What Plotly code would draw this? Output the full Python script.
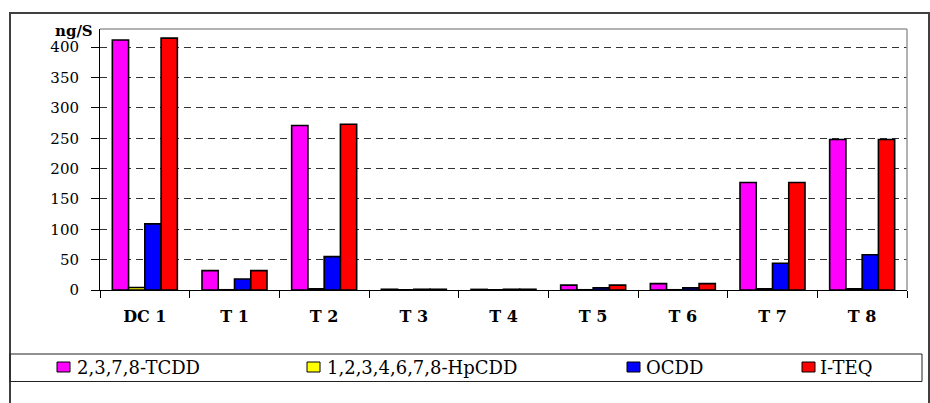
import plotly.graph_objects as go

categories = ["DC 1", "T 1", "T 2", "T 3", "T 4", "T 5", "T 6", "T 7", "T 8"]
series_names = ["2,3,7,8-TCDD", "1,2,3,4,6,7,8-HpCDD", "OCDD", "I-TEQ"]
tcdd = [412, 32, 271, 1.2, 1.0, 8, 10.5, 177, 248]
hpcdd = [4, 0.4, 2, 0.3, 0.3, 0.4, 0.4, 2, 2]
ocdd = [109, 18, 55, 1.2, 1.2, 3.5, 3.5, 44, 58]
iteq = [415, 32, 273, 1.2, 1.2, 8, 10.5, 177, 248]
colors = ["#FF00FF", "#FFFF00", "#0000FF", "#FF0000"]
y_ticks = [0, 50, 100, 150, 200, 250, 300, 350, 400]
y_title = "ng/S"

W, H = 930, 403
L, R, T, B = 100, 23, 29, 113
PW, PH = W - L - R, H - T - B

def px(x):
    return (x - L) / PW

def py(y):
    return (H - B - y) / PH

fig = go.Figure()
for name, vals, col in zip(series_names, [tcdd, hpcdd, ocdd, iteq], colors):
    fig.add_trace(go.Bar(
        x=categories, y=vals, name=name,
        marker=dict(color=col, line=dict(color="black", width=1.6)),
        showlegend=False,
    ))

serif = "DejaVu Serif"
shapes = [
    # outer frame
    dict(type="rect", xref="paper", yref="paper", x0=px(10), x1=px(929), y0=py(13), y1=py(430),
         line=dict(color="#404040", width=2), fillcolor="rgba(0,0,0,0)", layer="below"),
    # plot-area top and right border (gray)
    dict(type="line", xref="paper", yref="paper", x0=0, x1=1, y0=1, y1=1,
         line=dict(color="#999999", width=1.5)),
    dict(type="line", xref="paper", yref="paper", x0=1, x1=1, y0=0, y1=1,
         line=dict(color="#999999", width=1.5)),
    # legend box
    dict(type="rect", xref="paper", yref="paper", x0=px(10), x1=px(922), y0=py(354), y1=py(381.5),
         line=dict(color="#222222", width=1), fillcolor="rgba(0,0,0,0)"),
]
annotations = [
    dict(text="<b>" + y_title + "</b>", xref="paper", yref="paper", x=px(95), y=py(31),
         xanchor="right", yanchor="middle", showarrow=False,
         font=dict(family=serif, size=15, color="black")),
]
legend_sq = [57, 307, 627, 802]
legend_tx = [75, 325, 644, 818]
for name, col, sx, tx in zip(series_names, colors, legend_sq, legend_tx):
    shapes.append(dict(type="rect", xref="paper", yref="paper", x0=px(sx), x1=px(sx + 13),
                       y0=py(372), y1=py(362), fillcolor=col, line=dict(color="black", width=1)))
    annotations.append(dict(text=name, xref="paper", yref="paper", x=px(tx), y=py(367.5),
                            xanchor="left", yanchor="middle", showarrow=False,
                            font=dict(family=serif, size=18, color="black")))

fig.update_layout(
    width=W, height=H,
    margin=dict(l=L, r=R, t=T, b=B, pad=0),
    paper_bgcolor="white", plot_bgcolor="white",
    barmode="group", bargap=0.275, bargroupgap=0,
    font=dict(family=serif, color="black"),
    shapes=shapes, annotations=annotations,
    xaxis=dict(
        type="category", tickson="boundaries", ticks="outside", ticklen=7,
        tickcolor="black", tickwidth=1, showline=True, linecolor="black", linewidth=1,
        showgrid=False, ticklabelstandoff=12,
        tickfont=dict(family=serif, size=16, color="black", weight="bold"),
    ),
    yaxis=dict(
        range=[0, 430], tickvals=y_ticks, ticks="outside", ticklen=8,
        tickcolor="black", tickwidth=1, showline=True, linecolor="black", linewidth=1,
        showgrid=True, gridcolor="#333333", gridwidth=1, griddash="7px,5px",
        zeroline=False, ticklabelstandoff=9,
        tickfont=dict(family=serif, size=15, color="black"),
    ),
)

fig.write_html(
    "out.html",
    config={"displayModeBar": False, "responsive": False},
    post_script="document.body.style.margin='0';document.body.style.padding='0';"
                "document.body.style.overflow='hidden';",
)
